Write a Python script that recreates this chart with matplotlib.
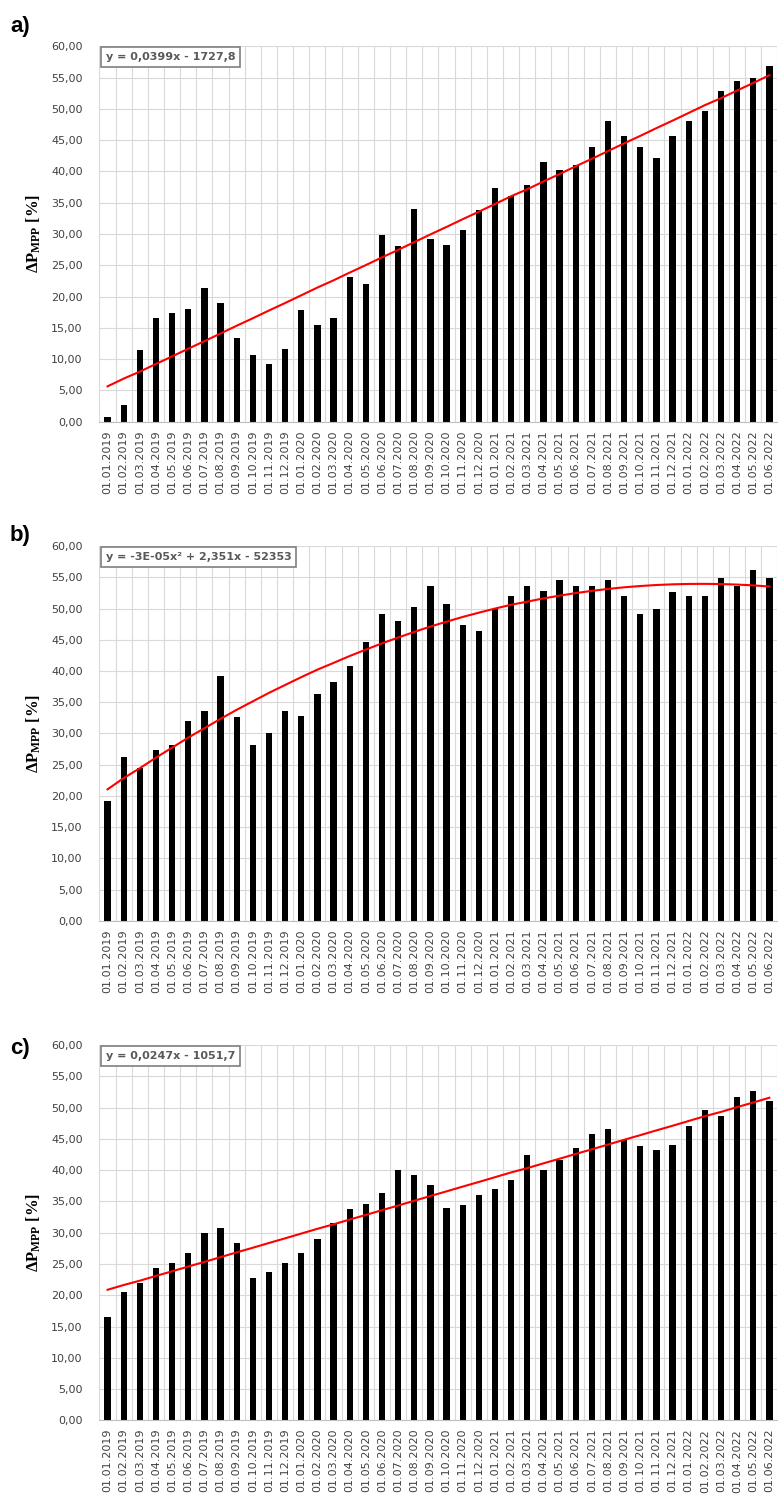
import numpy as np
import pandas as pd
import matplotlib
matplotlib.use('Agg')
import matplotlib.pyplot as plt
from matplotlib.ticker import FuncFormatter

plt.rcParams['mathtext.fontset'] = 'custom'
plt.rcParams['mathtext.rm'] = 'Liberation Serif'
plt.rcParams['mathtext.bf'] = 'Liberation Serif:bold'

# monthly categories 01.01.2019 .. 01.06.2022
dates = pd.date_range('2019-01-01', '2022-06-01', freq='MS')
date_labels = list(dates.strftime('%d.%m.%Y'))

# dP_MPP [%]
values_a = [0.8, 2.6, 11.5, 16.5, 17.3, 18.0, 21.3, 19.0, 13.4, 10.7, 9.2, 11.6,
            17.9, 15.5, 16.5, 23.1, 22.0, 29.8, 28.0, 34.0, 29.2, 28.2, 30.6, 33.8,
            37.4, 36.1, 37.9, 41.5, 40.3, 41.0, 43.9, 48.1, 45.7, 43.9, 42.1, 45.7,
            48.1, 49.7, 52.8, 54.5, 55.0, 56.8]
values_b = [19.1, 26.3, 24.5, 27.3, 28.1, 32.0, 33.6, 39.2, 32.7, 28.1, 30.0, 33.6,
            32.8, 36.3, 38.2, 40.8, 44.6, 49.2, 48.0, 50.2, 53.6, 50.7, 47.3, 46.4,
            50.0, 52.0, 53.6, 52.8, 54.5, 53.6, 53.6, 54.5, 52.0, 49.1, 50.0, 52.6,
            52.0, 52.0, 54.9, 53.6, 56.2, 54.9]
values_c = [16.6, 20.5, 22.0, 24.4, 25.1, 26.8, 30.0, 30.7, 28.3, 22.7, 23.7, 25.1,
            26.8, 29.0, 31.5, 33.8, 34.6, 36.3, 40.1, 39.3, 37.6, 33.9, 34.5, 36.1,
            37.0, 38.5, 42.4, 40.1, 41.6, 43.5, 45.7, 46.5, 44.8, 43.9, 43.3, 44.1,
            47.0, 49.6, 48.7, 51.7, 52.6, 51.1]

panel_letters = ['a)', 'b)', 'c)']
equations = ['y = 0,0399x - 1727,8', 'y = -3E-05x\u00b2 + 2,351x - 52353', 'y = 0,0247x - 1051,7']
fit_degree = [1, 2, 1]

# excel date serials, used for the trend fits
serial = np.array((dates - pd.Timestamp('1899-12-30')).days, dtype=float)

fig = plt.figure(figsize=(7.79, 15.06), dpi=100)
axes_pos = [[0.1277, 0.7200, 0.8703, 0.2493],
            [0.1277, 0.3886, 0.8703, 0.2488],
            [0.1277, 0.0568, 0.8703, 0.2493]]
letter_y = [0.9827, 0.6441, 0.3035]

x = np.arange(len(dates))
for i, vals in enumerate([values_a, values_b, values_c]):
    ax = fig.add_axes(axes_pos[i])
    ax.bar(x, vals, width=0.39, color='black', zorder=2)

    coef = np.polyfit(serial, vals, fit_degree[i])
    ax.plot(x, np.polyval(coef, serial), color='red', lw=1.5, zorder=3)

    ax.set_xlim(-0.5, len(dates) - 0.5)
    ax.set_ylim(0, 60)
    ax.set_yticks(np.arange(0, 61, 5))
    ax.yaxis.set_major_formatter(FuncFormatter(lambda v, p: f'{v:.2f}'.replace('.', ',')))
    ax.set_xticks(x)
    ax.set_xticklabels(date_labels, rotation=90)
    ax.set_xticks(np.arange(-0.5, len(dates), 1), minor=True)
    ax.tick_params(axis='both', which='both', length=0, labelsize=8, labelcolor='#404040')
    ax.tick_params(axis='x', pad=6)
    ax.tick_params(axis='y', pad=12)
    ax.grid(which='minor', axis='x', color='#d9d9d9', lw=0.8)
    ax.grid(which='major', axis='y', color='#d9d9d9', lw=0.8)
    ax.set_axisbelow(True)
    for s in ['top', 'right', 'left']:
        ax.spines[s].set_visible(False)
    ax.spines['bottom'].set_color('#bfbfbf')

    ax.set_ylabel(r'$\mathbf{\Delta P_{MPP}}$ [%]', fontsize=12, family='Liberation Serif',
                  fontweight='bold', color='#000000')
    ax.yaxis.set_label_coords(-0.083, 0.5)

    ax.text(0.009, 0.984, equations[i], transform=ax.transAxes, ha='left', va='top',
            fontsize=8, fontweight='bold', color='#595959', zorder=5,
            bbox=dict(boxstyle='square,pad=0.45', fc='white', ec='#7f7f7f', lw=1.2))

    fig.text(0.0128, letter_y[i], panel_letters[i], ha='left', va='center',
             fontsize=16, fontweight='bold', family='Liberation Sans')

fig.savefig('out.png', dpi=100)
